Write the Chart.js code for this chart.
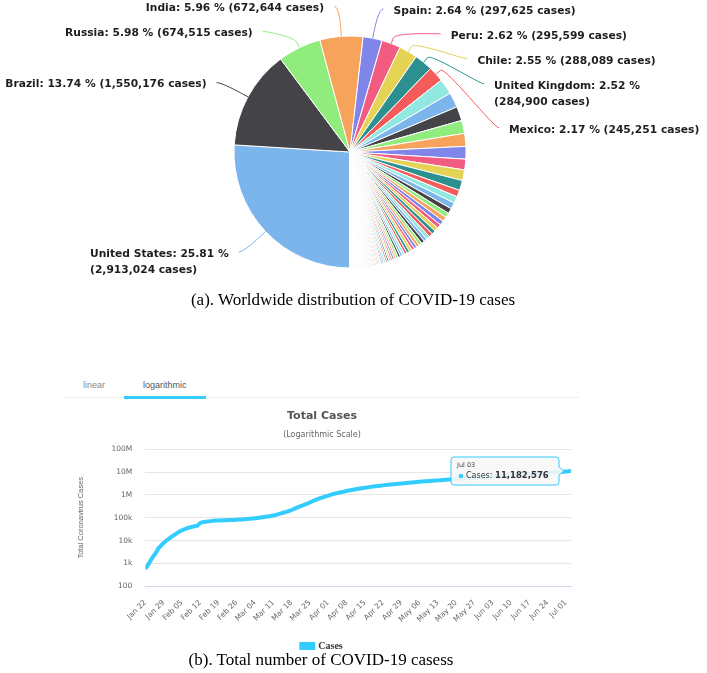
<!DOCTYPE html>
<html>
<head>
<meta charset="utf-8">
<script src="https://cdn.jsdelivr.net/npm/chart.js@4.4.1/dist/chart.umd.min.js"></script>
<style>
    html, body { margin: 0; padding: 0; background: #fff; }
    body { width: 707px; height: 673px; position: relative; overflow: hidden; }
    #pieChart { position: absolute; left: 0; top: 0; }
    #lineChart { position: absolute; left: 63px; top: 400px; }
    .caption {
        position: absolute; white-space: nowrap; transform: translateX(-50%);
        font-family: 'Liberation Serif', 'Times New Roman', serif; font-size: 17px; line-height: 20px; color: #000;
    }
    .tab { position: absolute; top: 379px; font-family: 'Liberation Sans', Arial, sans-serif; font-size: 9px; line-height: 12px; }
    #tabRule { position: absolute; left: 63px; top: 397px; width: 517px; height: 1px; background: #eef0f3; }
    #tabActive { position: absolute; left: 124px; top: 396px; width: 82px; height: 3px; background: #33ccff; }
</style>
</head>
<body>
<canvas id="pieChart" width="707" height="300"></canvas>
<div class="caption" style="left:353px; top:290px;">(a). Worldwide distribution of COVID-19 cases</div>

<div class="tab" style="left:83px; color:#8a8a8a;">linear</div>
<div class="tab" style="left:143px; color:#555;">logarithmic</div>
<div id="tabRule"></div>
<div id="tabActive"></div>
<canvas id="lineChart" width="520" height="261"></canvas>
<div class="caption" style="left:321px; top:650px;">(b). Total number of COVID-19 casess</div>

<script>
// ---- (a) camembert : pays ----
const topCountries = ['United States', 'Brazil', 'Russia', 'India', 'Spain', 'Peru', 'Chile', 'United Kingdom', 'Mexico'];
const topCases = [2913024, 1550176, 674515, 672644, 297625, 295599, 288089, 284900, 245251];
const topShares = [25.81, 13.74, 5.98, 5.96, 2.64, 2.62, 2.55, 2.52, 2.17];

const otherCountries = ['Italy', 'Iran', 'Pakistan', 'Turkey', 'Saudi Arabia', 'Germany', 'South Africa', 'France', 'Bangladesh',
    'Colombia', 'Canada', 'Qatar', 'China', 'Argentina', 'Egypt', 'Sweden', 'Belarus', 'Ecuador', 'Belgium', 'Indonesia',
    'Iraq', 'Netherlands', 'UAE', 'Kuwait', 'Ukraine', 'Singapore', 'Oman', 'Kazakhstan', 'Portugal', 'Philippines',
    'Panama', 'Bolivia', 'Poland', 'Dominican Republic', 'Afghanistan', 'Switzerland', 'Israel', 'Bahrain', 'Romania', 'Nigeria',
    'Armenia', 'Ireland', 'Honduras', 'Guatemala', 'Japan', 'Azerbaijan', 'Ghana', 'Austria', 'Moldova', 'Serbia',
    'Algeria', 'Nepal', 'Morocco', 'South Korea', 'Denmark', 'Cameroon', 'Czechia', 'Ivory Coast', 'Sudan', 'Uzbekistan',
    'Norway', 'Malaysia', 'Australia', 'Finland', 'DR Congo', 'Kenya', 'Senegal', 'El Salvador', 'Kyrgyzstan', 'Venezuela',
    'North Macedonia', 'Ethiopia', 'Haiti', 'Tajikistan', 'Gabon', 'Guinea', 'Bulgaria', 'Djibouti', 'Bosnia and Herzegovina', 'Luxembourg',
    'Mauritania', 'Hungary', 'Costa Rica', 'Central African Republic', 'Greece', 'Thailand', 'Palestine', 'Somalia', 'Croatia', 'Kosovo',
    'Albania', 'Madagascar', 'Maldives', 'Cuba', 'Paraguay', 'Mali', 'Nicaragua', 'Sri Lanka', 'South Sudan', 'Equatorial Guinea',
    'Estonia', 'Iceland', 'Lebanon', 'Lithuania', 'Slovakia', 'Guinea-Bissau', 'Zambia', 'Slovenia', 'New Zealand', 'Sierra Leone',
    'Malawi', 'Cape Verde', 'Benin', 'Yemen', 'Tunisia', 'Jordan', 'Latvia', 'Rwanda', 'Congo', 'Niger',
    'Cyprus', 'Burkina Faso', 'Uruguay', 'Georgia', 'Eswatini', 'Mozambique', 'Uganda', 'Libya', 'Chad', 'Andorra',
    'Liberia', 'Sao Tome and Principe', 'San Marino', 'Jamaica', 'Malta', 'Togo', 'Montenegro', 'Zimbabwe', 'Tanzania', 'Suriname',
    'Taiwan', 'Vietnam', 'Mauritius', 'Syria', 'Myanmar', 'Comoros', 'Angola', 'Guyana', 'Botswana', 'Burundi'];
const otherCases = [240961, 235429, 221896, 202284, 201801, 196780, 168061, 166378, 156391,
    106110, 105536, 98653, 83542, 72786, 72711, 70639, 62997, 61958, 61727, 60695,
    56560, 50484, 50141, 47859, 46763, 44479, 44230, 43827, 43569, 40336,
    37091, 36818, 35146, 35040, 32022, 31967, 28055, 27837, 27746, 27564,
    27320, 25477, 20262, 20072, 19068, 18684, 18134, 17941, 17150, 15829,
    14657, 14519, 13288, 12967, 12815, 12592, 12046, 10360, 9663, 9508,
    8902, 8643, 8255, 7236, 7189, 7188, 7054, 7000, 6990, 6537,
    6470, 6386, 6294, 6159, 5620, 5450, 5154, 4704, 4606, 4522,
    4363, 4157, 4023, 3969, 3486, 3185, 3095, 2924, 2912, 2890,
    2580, 2512, 2361, 2348, 2303, 2181, 2170, 2074, 2021, 2001,
    1989, 1842, 1831, 1827, 1700, 1654, 1632, 1621, 1530, 1498,
    1342, 1267, 1199, 1190, 1178, 1132, 1118, 1105, 1087, 1080,
    999, 980, 947, 939, 912, 903, 893, 891, 871, 855,
    819, 715, 713, 707, 671, 661, 620, 605, 509, 501,
    449, 355, 341, 328, 303, 293, 291, 245, 227, 191];

// ---- (b) courbe : cas cumulés du 22 jan au 03 juil ----
const xTickLabels = ['Jan 22', 'Jan 29', 'Feb 05', 'Feb 12', 'Feb 19', 'Feb 26', 'Mar 04', 'Mar 11', 'Mar 18', 'Mar 25',
    'Apr 01', 'Apr 08', 'Apr 15', 'Apr 22', 'Apr 29', 'May 06', 'May 13', 'May 20', 'May 27', 'Jun 03',
    'Jun 10', 'Jun 17', 'Jun 24', 'Jul 01'];
const yTickValues = [100, 1000, 10000, 100000, 1000000, 10000000, 100000000];
const yTickLabels = ['100', '1k', '10k', '100k', '1M', '10M', '100M'];
const totalCases = [
    // janv.
    580, 845, 1317, 2015, 2800, 4581, 6058, 7813, 9823, 11950,
    // fév.
    14553, 17391, 20630, 24545, 28266, 31439, 34876, 37552, 40553, 43099,
    45134, 59287, 64438, 67100, 69197, 71329, 73332, 75184, 75700, 76677,
    77673, 78651, 79205, 80087, 80828, 81820, 83112, 84615, 86604,
    // mars
    88585, 90443, 93016, 95314, 98425, 102050, 106099, 109991, 114381, 118948,
    126214, 134576, 145483, 156653, 169511, 182490, 198238, 218822, 246198, 275993,
    305275, 337489, 378287, 418041, 467653, 529591, 593291, 660706, 720117, 782365, 857487,
    // avril
    932605, 1013157, 1095917, 1176060, 1249754, 1321481, 1396476, 1479804, 1565278, 1657526,
    1735650, 1834721, 1904838, 1976191, 2056054, 2152437, 2240190, 2317758, 2401378, 2472259,
    2549123, 2624101, 2708885, 2811193, 2896746, 2971475, 3041764, 3116398, 3193886, 3256853,
    // mai
    3343777, 3427584, 3506729, 3583055, 3662691, 3755341, 3845718, 3938064, 4024009, 4101699,
    4177502, 4261747, 4347018, 4442163, 4542347, 4634068, 4713620, 4801943, 4897492, 4996472,
    5102424, 5210817, 5311874, 5407613, 5495061, 5589626, 5691790, 5808946, 5924275, 6059017, 6166946,
    // juin
    6265852, 6378237, 6508635, 6632985, 6764811, 6891073, 6997205, 7099576, 7221696, 7355069,
    7489357, 7629426, 7761224, 7884090, 8010006, 8150845, 8293059, 8429565, 8612591, 8773130,
    8905883, 9043009, 9211002, 9378813, 9557012, 9751200, 9935032, 10097880, 10265480, 10451400,
    // juil.
    10664470, 10880750, 11182576];
const tooltipDate = 'Jul 03';

// palette par défaut de Highcharts
const palette = ['#7cb5ec', '#434348', '#90ed7d', '#f7a35c', '#8085e9', '#f15c80', '#e4d354', '#2b908f', '#f45b5b', '#91e8e1'];
const lineColor = '#33ccff';

// Etiquettes avec connecteurs, façon Highcharts
const pieLabels = {
    id: 'pieLabels',
    afterDatasetsDraw(chart) {
        const ctx = chart.ctx;
        const arcs = chart.getDatasetMeta(0).data;
        const distance = 30;
        const lineHeight = 16;
        const slot = 25;
        const extraLine = 19;

        ctx.save();
        ctx.font = 'bold 10.7px "DejaVu Sans", Verdana, sans-serif';

        const items = topCountries.map((name, i) => {
            const arc = arcs[i];
            const mid = (arc.startAngle + arc.endAngle) / 2;
            const text = `${name}: ${topShares[i].toFixed(2)} % (${topCases[i].toLocaleString('en-US')} cases)`;
            return {
                i, mid, cx: arc.x, cy: arc.y, r: arc.outerRadius,
                left: Math.cos(mid) < 0,
                lines: [text],
                natural: arc.y + (arc.outerRadius + distance) * Math.sin(mid)
            };
        });

        const getX = (it, y) => {
            const R = it.r + distance;
            const dy = Math.max(-R, Math.min(R, y - it.cy));
            return it.cx + (it.left ? -1 : 1) * (Math.sqrt(R * R - dy * dy) + 5);
        };

        const distribute = () => {
            [true, false].forEach(side => {
                const list = items.filter(it => it.left === side).sort((a, b) => a.natural - b.natural);
                let prev = null;
                list.forEach(it => {
                    it.y = Math.max(it.natural, 5);
                    if (prev) it.y = Math.max(it.y, prev.y + slot + extraLine * (prev.lines.length - 1));
                    prev = it;
                });
                // ne pas sortir par le bas
                let limit = 286;
                for (let k = list.length - 1; k >= 0; k--) {
                    const it = list[k];
                    const bottom = it.y + lineHeight * (it.lines.length - 1);
                    if (bottom > limit) it.y -= bottom - limit;
                    limit = it.y - slot;
                }
            });
        };

        distribute();
        let wrapped = false;
        items.forEach(it => {
            const x = getX(it, it.y);
            const w = ctx.measureText(it.lines[0]).width;
            const overflow = it.left ? (x - 10 - w < -3) : (x + 10 + w > chart.width - 2);
            if (overflow) {
                const cut = it.lines[0].indexOf(' (');
                it.lines = [it.lines[0].slice(0, cut), it.lines[0].slice(cut + 1)];
                wrapped = true;
            }
        });
        if (wrapped) distribute();

        items.forEach(it => {
            const x = getX(it, it.y);
            const cos = Math.cos(it.mid), sin = Math.sin(it.mid);
            const tx = it.cx + it.r * cos, ty = it.cy + it.r * sin;
            const bx = it.cx + (it.r + 6) * cos, by = it.cy + (it.r + 6) * sin;

            ctx.beginPath();
            ctx.moveTo(x, it.y);
            ctx.bezierCurveTo(x + (it.left ? 5 : -5), it.y, 2 * bx - tx, 2 * by - ty, bx, by);
            ctx.lineTo(tx, ty);
            ctx.strokeStyle = palette[it.i % palette.length];
            ctx.lineWidth = 1;
            ctx.stroke();

            const maxW = Math.max(...it.lines.map(l => ctx.measureText(l).width));
            const textX = it.left ? x - 10 - maxW : x + 10;
            ctx.fillStyle = '#1e1e1e';
            ctx.textAlign = 'left';
            ctx.textBaseline = 'middle';
            it.lines.forEach((l, k) => ctx.fillText(l, textX, it.y + 2 + k * lineHeight));
        });
        ctx.restore();
    }
};

new Chart(document.getElementById('pieChart'), {
    type: 'pie',
    data: {
        labels: topCountries.concat(otherCountries),
        datasets: [{
            data: topCases.concat(otherCases),
            backgroundColor: ctx => palette[ctx.dataIndex % palette.length],
            borderColor: '#ffffff',
            borderWidth: 1
        }]
    },
    options: {
        responsive: false,
        animation: false,
        events: [],
        rotation: 180,
        radius: 116,
        layout: { padding: { left: 0, right: 7, top: 4, bottom: 0 } },
        plugins: { legend: { display: false }, tooltip: { enabled: false } }
    },
    plugins: [pieLabels]
});

// Infobulle figée sur le dernier point
const staticTooltip = {
    id: 'staticTooltip',
    afterDatasetsDraw(chart) {
        const meta = chart.getDatasetMeta(0);
        const pt = meta.data[meta.data.length - 1];
        const value = totalCases[totalCases.length - 1];
        const ctx = chart.ctx;
        const w = 108, h = 28;
        const bx = pt.x - 12 - w, by = pt.y - h / 2;

        ctx.save();
        ctx.beginPath();
        ctx.moveTo(bx + 3, by);
        ctx.lineTo(bx + w - 3, by);
        ctx.quadraticCurveTo(bx + w, by, bx + w, by + 3);
        ctx.lineTo(bx + w, pt.y - 4);
        ctx.lineTo(bx + w + 5, pt.y);
        ctx.lineTo(bx + w, pt.y + 4);
        ctx.lineTo(bx + w, by + h - 3);
        ctx.quadraticCurveTo(bx + w, by + h, bx + w - 3, by + h);
        ctx.lineTo(bx + 3, by + h);
        ctx.quadraticCurveTo(bx, by + h, bx, by + h - 3);
        ctx.lineTo(bx, by + 3);
        ctx.quadraticCurveTo(bx, by, bx + 3, by);
        ctx.closePath();
        ctx.fillStyle = 'rgba(247, 247, 247, 0.9)';
        ctx.fill();
        ctx.strokeStyle = lineColor;
        ctx.lineWidth = 1;
        ctx.stroke();

        ctx.fillStyle = '#444';
        ctx.textBaseline = 'middle';
        ctx.font = '6.5px "DejaVu Sans", sans-serif';
        ctx.fillText(tooltipDate, bx + 6, by + 8);

        ctx.beginPath();
        ctx.arc(bx + 10, by + 19, 2.3, 0, Math.PI * 2);
        ctx.fillStyle = lineColor;
        ctx.fill();

        ctx.fillStyle = '#333';
        ctx.font = '8px "DejaVu Sans", sans-serif';
        const lbl = 'Cases: ';
        ctx.fillText(lbl, bx + 15, by + 19);
        const lw = ctx.measureText(lbl).width;
        ctx.font = 'bold 8.5px "DejaVu Sans", sans-serif';
        ctx.fillText(value.toLocaleString('en-US'), bx + 15 + lw, by + 19);
        ctx.restore();
    }
};

new Chart(document.getElementById('lineChart'), {
    type: 'line',
    data: {
        datasets: [{
            label: 'Cases',
            data: totalCases.map((v, i) => ({ x: i, y: v })),
            borderColor: lineColor,
            backgroundColor: lineColor,
            borderWidth: 4,
            pointRadius: 0,
            tension: 0
        }]
    },
    options: {
        responsive: false,
        animation: false,
        events: [],
        layout: { padding: { left: 10, right: 12, top: 0, bottom: 0 } },
        plugins: {
            title: {
                display: true,
                text: 'Total Cases',
                color: '#555',
                font: { family: 'DejaVu Sans', size: 11, weight: 'bold' },
                padding: { top: 10, bottom: 0 }
            },
            subtitle: {
                display: true,
                text: '(Logarithmic Scale)',
                color: '#666',
                font: { family: 'DejaVu Sans', size: 8 },
                padding: { top: 6.5, bottom: 10 }
            },
            legend: {
                position: 'bottom',
                labels: {
                    boxWidth: 12,
                    boxHeight: 4,
                    padding: 13,
                    color: '#333',
                    font: { family: 'Liberation Serif', size: 10, weight: 'bold' }
                }
            },
            tooltip: { enabled: false }
        },
        scales: {
            x: {
                type: 'linear',
                min: 0,
                max: totalCases.length - 1,
                afterBuildTicks: axis => { axis.ticks = xTickLabels.map((_, i) => ({ value: i * 7 })); },
                ticks: {
                    autoSkip: false,
                    minRotation: 45,
                    maxRotation: 45,
                    padding: 4,
                    color: '#666',
                    font: { family: 'DejaVu Sans', size: 7.5 },
                    callback: v => xTickLabels[Math.round(v / 7)]
                },
                grid: { display: false },
                border: { display: true, color: '#ccd6eb', width: 1 }
            },
            y: {
                type: 'logarithmic',
                min: 100,
                max: 100000000,
                afterBuildTicks: axis => { axis.ticks = yTickValues.map(v => ({ value: v })); },
                ticks: {
                    padding: 13,
                    color: '#666',
                    font: { family: 'DejaVu Sans', size: 7.5 },
                    callback: v => yTickLabels[yTickValues.indexOf(v)]
                },
                grid: { color: '#e6e6e6', drawTicks: false },
                border: { display: false },
                title: {
                    display: true,
                    text: 'Total Coronavirus Cases',
                    color: '#666',
                    font: { family: 'Liberation Sans', size: 7.5 },
                    padding: { top: 3.5, bottom: 13 }
                }
            }
        }
    },
    plugins: [staticTooltip]
});
</script>
</body>
</html>
